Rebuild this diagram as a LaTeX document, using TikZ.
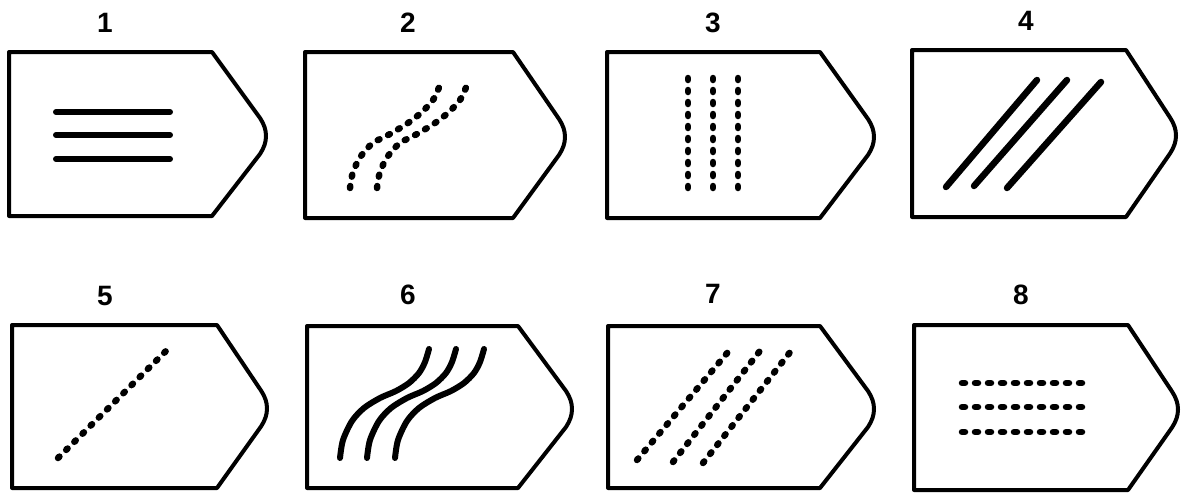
\documentclass[tikz,border=0pt]{standalone}
\usepackage{fontspec}
\setmainfont{Liberation Sans}
\newcommand\tagpath[5]{%
  (#1,#2) -- ({#1+#3},#2) -- ({#1+#4-7},{#2+#5/2-16})
  .. controls ({#1+#4+1},{#2+#5/2-4}) and ({#1+#4+1},{#2+#5/2+8}) .. ({#1+#4-7},{#2+#5/2+20})
  -- ({#1+#3},{#2+#5}) -- (#1,{#2+#5}) -- cycle}
\begin{document}
\begin{tikzpicture}[x=1pt,y=-1pt,
  tagbox/.style={line width=4pt,line join=round},
  solidmark/.style={line width=6pt,line cap=round},
  dotmark/.style={line width=6.5pt,line cap=round,dash pattern=on 2pt off 9.5pt},
  numlabel/.style={font=\bfseries\fontsize{28}{28}\selectfont,inner sep=0pt}]
\useasboundingbox (0,0) rectangle (1184,493);
% labels
\node[numlabel] (l1) at (105,23) {1};
\node[numlabel] (l2) at (408,23) {2};
\node[numlabel] (l3) at (713,23) {3};
\node[numlabel] (l4) at (1026,21) {4};
\node[numlabel] (l5) at (105,296) {5};
\node[numlabel] (l6) at (408,295) {6};
\node[numlabel] (l7) at (713,294) {7};
\node[numlabel] (l8) at (1021,295) {8};
% boxes
\draw[tagbox] \tagpath{9}{52}{203}{258}{164};
\draw[tagbox] \tagpath{305}{52}{208}{261}{166};
\draw[tagbox] \tagpath{607}{52}{213}{268}{166};
\draw[tagbox] \tagpath{912}{50}{214}{265}{167};
\draw[tagbox] \tagpath{12}{325}{205}{256}{163};
\draw[tagbox] \tagpath{307}{326}{211}{266}{162};
\draw[tagbox] \tagpath{608}{326}{212}{267}{162};
\draw[tagbox] \tagpath{914}{325}{214}{265}{165};
% 1: solid horizontal lines
\foreach \yy in {112,135,159} \draw[solidmark] (56,\yy) -- (170,\yy);
% 2: dotted S-curves
\foreach \dx in {0,27}
  \draw[dotmark,xshift=\dx pt] plot[smooth] coordinates {(350,188) (353,172) (361,156) (373,143) (390,134) (408,123) (422,112) (433,100) (438,90) (442,79)};
% 3: dotted vertical lines
\foreach \xx in {688,713,738} \draw[dotmark,dash pattern=on 2pt off 10pt] (\xx,78) -- (\xx,188);
% 4: solid diagonals
\draw[solidmark,line width=6.5pt] (946,187) -- (1037,80);
\draw[solidmark,line width=6.5pt] (974,186) -- (1067,80);
\draw[solidmark,line width=6.5pt] (1007,188) -- (1101,82);
% 5: dotted diagonal
\draw[dotmark] (58,458) -- (168,349);
% 6: solid S-curves
\foreach \dx in {0,27,55}
  \draw[solidmark] plot[smooth] coordinates {({340+\dx},458) ({343+\dx},440) ({352+\dx},421) ({364+\dx},408) ({380+\dx},398) ({396+\dx},391) ({409+\dx},383) ({419+\dx},373) ({425+\dx},362) ({429+\dx},349)};
% 7: dotted diagonals
\draw[dotmark] (637,460) -- (728,352);
\draw[dotmark] (673,462) -- (763,347);
\draw[dotmark] (703,463) -- (791,351);
% 8: dotted horizontal rows
\foreach \yy in {383,407,432} \draw[dotmark,dash pattern=on 3pt off 10pt] (962,\yy) -- (1083,\yy);
\end{tikzpicture}
\end{document}
